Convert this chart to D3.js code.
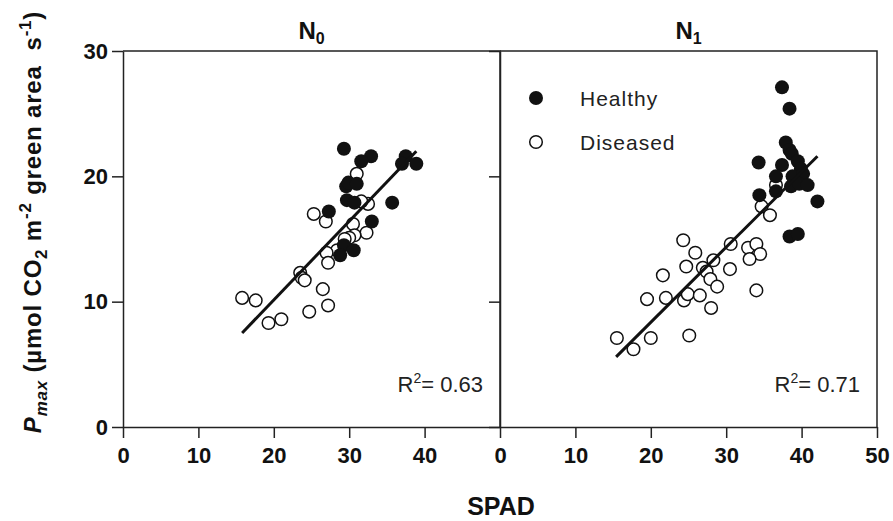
<!DOCTYPE html>
<html>
<head>
<meta charset="utf-8">
<script src="https://cdn.jsdelivr.net/npm/d3@7/dist/d3.min.js"></script>
<style>
  body { margin: 0; background: #fff; }
  .axis text { font-family: "Liberation Sans Narrow", "Arial Narrow", "Liberation Sans", Arial, sans-serif; font-weight: bold; font-size: 22px; fill: #111; }
  .axis path, .axis line { stroke: #222; stroke-width: 1.5; }
</style>
</head>
<body>
<div id="chart"></div>
<script>
// N0 panel
const n0HealthySpad = [29.3, 32.9, 31.6, 37.5, 37.0, 38.9, 29.6, 29.9, 31.0, 29.7, 30.7, 35.7, 27.3, 33.0, 29.3, 28.8, 30.6];
const n0HealthyPmax = [22.2, 21.6, 21.2, 21.6, 21.0, 21.0, 19.2, 19.5, 19.4, 18.1, 17.9, 17.9, 17.2, 16.4, 14.5, 13.7, 14.1];
const n0DiseasedSpad = [31.0, 32.5, 31.6, 25.3, 26.9, 30.5, 32.3, 30.7, 30.0, 29.4, 28.4, 27.0, 27.2, 23.5, 23.7, 24.1, 26.5, 15.8, 17.6, 19.3, 21.0, 24.7, 27.2];
const n0DiseasedPmax = [20.2, 17.8, 18.0, 17.0, 16.4, 16.2, 15.5, 15.3, 15.1, 15.0, 14.1, 13.9, 13.1, 12.3, 11.9, 11.7, 11.0, 10.3, 10.1, 8.3, 8.6, 9.2, 9.7];
const n0FitSpad = [15.8, 38.9];
const n0FitPmax = [7.5, 22.0];

// N1 panel
const n1HealthySpad = [37.4, 38.4, 37.9, 38.4, 38.7, 34.3, 37.4, 39.5, 39.9, 36.6, 38.8, 40.2, 38.6, 39.7, 40.8, 36.6, 34.4, 42.1, 38.4, 39.5];
const n1HealthyPmax = [27.1, 25.4, 22.7, 22.1, 21.8, 21.1, 20.9, 21.2, 20.6, 20.0, 20.0, 20.2, 19.2, 19.4, 19.3, 18.8, 18.5, 18.0, 15.2, 15.4];
const n1DiseasedSpad = [36.6, 34.7, 35.8, 24.3, 25.9, 30.6, 32.9, 34.0, 34.5, 33.1, 28.3, 24.7, 26.9, 27.4, 30.5, 21.6, 27.9, 28.8, 19.5, 22.0, 24.4, 24.9, 26.5, 28.0, 34.0, 15.5, 17.7, 20.0, 25.1];
const n1DiseasedPmax = [19.3, 17.6, 16.9, 14.9, 13.9, 14.6, 14.3, 14.6, 13.8, 13.4, 13.3, 12.8, 12.7, 12.4, 12.6, 12.1, 11.8, 11.2, 10.2, 10.3, 10.1, 10.6, 10.5, 9.5, 10.9, 7.1, 6.2, 7.1, 7.3];
const n1FitSpad = [15.4, 42.1];
const n1FitPmax = [5.6, 21.6];

const yTicks = [0, 10, 20, 30];
const xTicksN0 = [0, 10, 20, 30, 40];
const xTicksN1 = [0, 10, 20, 30, 40, 50];
const legendLabels = ["Healthy", "Diseased"];
const r2Labels = ["0.63", "0.71"];

const width = 893, height = 521;
const plotTop = 51, plotBottom = 427;
const panelW = 377;
const panelX = [123, 500];

const svg = d3.select("#chart").append("svg")
    .attr("width", width)
    .attr("height", height);

const y = d3.scaleLinear().domain([0, 30]).range([plotBottom, plotTop]);

const panels = [
  { healthyX: n0HealthySpad, healthyY: n0HealthyPmax, disX: n0DiseasedSpad, disY: n0DiseasedPmax,
    fitX: n0FitSpad, fitY: n0FitPmax, xTicks: xTicksN0, sub: "0", r2: r2Labels[0] },
  { healthyX: n1HealthySpad, healthyY: n1HealthyPmax, disX: n1DiseasedSpad, disY: n1DiseasedPmax,
    fitX: n1FitSpad, fitY: n1FitPmax, xTicks: xTicksN1, sub: "1", r2: r2Labels[1] }
];

panels.forEach((p, i) => {
  const x0 = panelX[i];
  const x = d3.scaleLinear().domain([0, 50]).range([x0, x0 + panelW]);

  // frame: top and right edges
  svg.append("path")
    .attr("d", `M${x0},${plotTop}H${x0 + panelW}V${plotBottom}`)
    .attr("fill", "none")
    .attr("stroke", "#222")
    .attr("stroke-width", 1.5);

  // y axis
  const yAxis = d3.axisLeft(y).tickValues(yTicks).tickSize(11).tickSizeOuter(0).tickPadding(4);
  if (i > 0) yAxis.tickFormat("");
  svg.append("g")
    .attr("class", "axis")
    .attr("transform", `translate(${x0},0)`)
    .call(yAxis);

  // x axis
  svg.append("g")
    .attr("class", "axis")
    .attr("transform", `translate(0,${plotBottom})`)
    .call(d3.axisBottom(x).tickValues(p.xTicks).tickSize(11).tickSizeOuter(0).tickPadding(9));

  // panel title
  const t = svg.append("text")
    .attr("x", x0 + panelW / 2)
    .attr("y", 39)
    .attr("text-anchor", "middle")
    .style("font-family", '"Liberation Sans Narrow", "Arial Narrow", "Liberation Sans", Arial, sans-serif')
    .style("font-weight", "bold")
    .style("font-size", "24px")
    .attr("fill", "#111");
  t.append("tspan").text("N");
  t.append("tspan").attr("dy", 5).style("font-size", "16px").text(p.sub);

  // diseased points (open)
  svg.append("g").selectAll("circle")
    .data(p.disX.map((d, k) => [d, p.disY[k]]))
    .enter().append("circle")
    .attr("cx", d => x(d[0]))
    .attr("cy", d => y(d[1]))
    .attr("r", 6.3)
    .attr("fill", "#fff")
    .attr("stroke", "#111")
    .attr("stroke-width", 1.5);

  // healthy points (filled)
  svg.append("g").selectAll("circle")
    .data(p.healthyX.map((d, k) => [d, p.healthyY[k]]))
    .enter().append("circle")
    .attr("cx", d => x(d[0]))
    .attr("cy", d => y(d[1]))
    .attr("r", 7)
    .attr("fill", "#111");

  // regression line
  svg.append("line")
    .attr("x1", x(p.fitX[0])).attr("y1", y(p.fitY[0]))
    .attr("x2", x(p.fitX[1])).attr("y2", y(p.fitY[1]))
    .attr("stroke", "#111")
    .attr("stroke-width", 3);

  // R2 label
  const r = svg.append("text")
    .attr("x", x0 + panelW - 17)
    .attr("y", 392)
    .attr("text-anchor", "end")
    .style("font-family", '"Liberation Sans", Arial, sans-serif')
    .style("font-size", "22px")
    .attr("fill", "#222");
  r.append("tspan").text("R");
  r.append("tspan").attr("dy", -9).style("font-size", "14px").text("2");
  r.append("tspan").attr("dy", 9).text("= " + p.r2);
});

// legend in N1 panel
const legend = svg.append("g").attr("transform", "translate(536,0)");
legendLabels.forEach((lab, k) => {
  const cy = k === 0 ? 98 : 142;
  legend.append("circle")
    .attr("cx", 0).attr("cy", cy).attr("r", k === 0 ? 7 : 6.3)
    .attr("fill", k === 0 ? "#111" : "#fff")
    .attr("stroke", "#111")
    .attr("stroke-width", k === 0 ? 0 : 1.5);
  legend.append("text")
    .attr("x", 44).attr("y", cy + 8)
    .style("font-family", '"Liberation Sans", Arial, sans-serif')
    .style("font-size", "21px")
    .style("letter-spacing", "1px")
    .attr("fill", "#222")
    .text(lab);
});

// x axis title
svg.append("text")
  .attr("x", 501)
  .attr("y", 515)
  .attr("text-anchor", "middle")
  .style("font-family", '"Liberation Sans Narrow", "Arial Narrow", "Liberation Sans", Arial, sans-serif')
  .style("font-weight", "bold")
  .style("font-size", "25px")
  .attr("fill", "#111")
  .text("SPAD");

// y axis title
const yt = svg.append("text")
  .attr("transform", "translate(41,222) rotate(-90)")
  .attr("text-anchor", "middle")
  .style("font-family", '"Liberation Sans", Arial, sans-serif')
  .style("font-weight", "bold")
  .style("font-size", "24px")
  .style("letter-spacing", "0.8px")
  .attr("fill", "#111");
yt.append("tspan").style("font-style", "italic").text("P");
yt.append("tspan").attr("dy", 6).style("font-style", "italic").style("font-size", "17px").text("max");
yt.append("tspan").attr("dy", -6).text(" (\u00b5mol CO");
yt.append("tspan").attr("dy", 6).style("font-size", "17px").text("2");
yt.append("tspan").attr("dy", -6).text(" m");
yt.append("tspan").attr("dy", -10).style("font-size", "17px").text("-2");
yt.append("tspan").attr("dy", 10).text(" green area\u00a0\u00a0s");
yt.append("tspan").attr("dy", -10).style("font-size", "17px").text("-1");
yt.append("tspan").attr("dy", 10).text(")");
</script>
</body>
</html>
